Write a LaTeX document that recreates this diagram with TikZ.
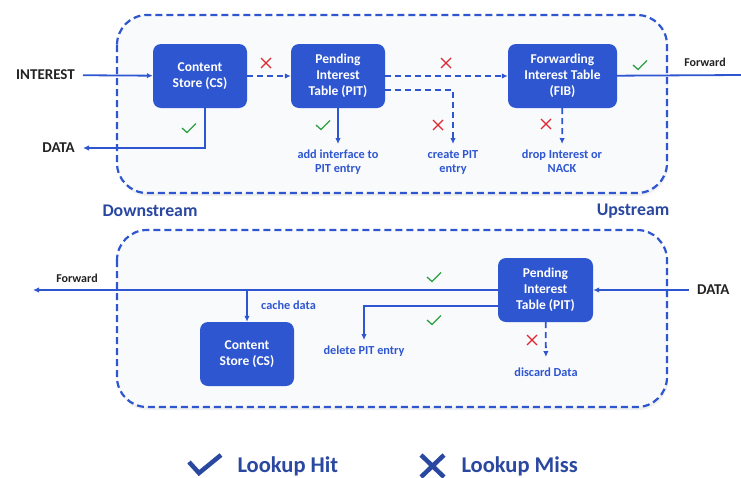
\documentclass[tikz,border=0pt]{standalone}
\usepackage{fontspec}
\setmainfont{Carlito}
\usetikzlibrary{arrows.meta,shadows}

\definecolor{ndnblue}{RGB}{46,86,208}
\definecolor{navy}{RGB}{42,72,160}
\definecolor{hitgreen}{RGB}{44,160,64}
\definecolor{missred}{RGB}{222,40,52}
\definecolor{panelfill}{RGB}{249,250,252}
\definecolor{inkgray}{RGB}{34,34,34}

\tikzset{
  panel/.style={draw=ndnblue, line width=2.2pt, dash pattern=on 7pt off 4pt,
    rounded corners=30pt, fill=panelfill,
    drop shadow={opacity=0.12, shadow xshift=1pt, shadow yshift=-3pt}},
  tablebox/.style={fill=ndnblue, rounded corners=8pt, text=white, align=center,
    minimum height=64pt, font=\bfseries\fontsize{13.5}{16}\selectfont},
  flow/.style={draw=ndnblue, line width=1.8pt},
  missflow/.style={flow, dash pattern=on 6pt off 4pt},
  subtext/.style={text=ndnblue, align=center, inner xsep=2pt, inner ysep=6pt,
    font=\bfseries\fontsize{12.3}{14}\selectfont},
  edgetext/.style={text=inkgray, inner xsep=8pt, font=\bfseries\fontsize{15}{17}\selectfont},
  fwdtext/.style={text=inkgray, font=\bfseries\fontsize{12}{14}\selectfont},
  sidetext/.style={text=navy, font=\bfseries\fontsize{17.8}{20}\selectfont},
  legendtext/.style={text=navy, anchor=west, font=\bfseries\fontsize{22.5}{26}\selectfont},
  hit/.pic={\draw[hitgreen, line width=1.3pt] (-7,0) -- (-2,4.5) -- (7,-4.5);},
  miss/.pic={\draw[missred, line width=1.3pt] (-5,-5) -- (5,5) (-5,5) -- (5,-5);}
}

\begin{document}
\begin{tikzpicture}[x=1pt, y=-1pt, >={Latex[length=6pt,width=5.5pt]}]
  \useasboundingbox (0,0) rectangle (741,477);

  % the two router panels
  \path[panel] (117,15) rectangle (667,193);
  \path[panel] (117,230) rectangle (667,407);
  \node[sidetext] (down) at (150,211) {Downstream};
  \node[sidetext] (up) at (633,211) {Upstream};

  % interest pipeline
  \node[tablebox, minimum width=94pt] (cs) at (200,76) {Content\\Store (CS)};
  \node[tablebox, minimum width=94pt] (pit) at (338,76) {Pending\\Interest\\Table (PIT)};
  \node[tablebox, minimum width=109pt] (fib) at (562.5,76) {Forwarding\\Interest Table\\(FIB)};

  \node[edgetext, anchor=east] (interest) at (83,75) {INTEREST};
  \node[edgetext, anchor=east] (data) at (83,148) {DATA};
  \node[subtext, anchor=north] (addif) at (338,144) {add interface to\\PIT entry};
  \node[subtext, anchor=north] (createpit) at (453,144) {create PIT\\entry};
  \node[subtext, anchor=north] (dropint) at (562,144) {drop Interest or\\NACK};
  \node[fwdtext] (fwdright) at (705,62) {Forward};
  \coordinate (rightedge) at (741,75);

  \draw[flow, ->] (interest) -- (cs);
  \draw[flow, ->] ([xshift=5pt]cs.south) |- (data);
  \draw[missflow, ->] (cs) -- (pit);
  \draw[missflow, ->] (pit) -- (fib);
  \draw[missflow, ->] ([yshift=-14pt]pit.east) -| (createpit);
  \draw[flow, ->] (pit) -- (addif);
  \draw[missflow, ->] (fib) -- (dropint);
  \draw[flow] (fib) -- (rightedge);

  \pic at (266,63) {miss};
  \pic at (446,63) {miss};
  \pic at (438,125) {miss};
  \pic at (546,124) {miss};
  \pic at (189,128) {hit};
  \pic at (323,125) {hit};
  \pic at (640,65) {hit};

  % data pipeline
  \node[tablebox, minimum width=95pt] (bpit) at (545.5,290) {Pending\\Interest\\Table (PIT)};
  \node[tablebox, minimum width=94pt] (bcs) at (247,354) {Content\\Store (CS)};

  \node[edgetext, anchor=west] (datain) at (689,290) {DATA};
  \node[fwdtext] (fwdleft) at (77,278) {Forward};
  \node[subtext, anchor=west] (cachedata) at (259,305) {cache data};
  \node[subtext, anchor=north] (deletepit) at (364,340) {delete PIT entry};
  \node[subtext, anchor=north, inner ysep=11pt] (discard) at (546,357) {discard Data};
  \coordinate (leftedge) at (33,290);
  \coordinate (branch) at (247,290);

  \draw[flow, ->] (datain) -- (bpit);
  \draw[flow, ->] (bpit.west) -- (leftedge);
  \draw[flow, ->] (branch) -- (bcs);
  \draw[flow, ->] ([yshift=-16pt]bpit.west) -| (deletepit);
  \draw[missflow, ->] (bpit) -- (discard);

  \pic at (434,277) {hit};
  \pic at (434,320) {hit};
  \pic at (532,340) {miss};

  % legend
  \draw[navy, line width=4.5pt] (189,462) -- (199,473) -- (221,455);
  \node[legendtext] (lookuphit) at (234,466) {Lookup Hit};
  \draw[navy, line width=4.5pt] (421,455) -- (444,477) (444,455) -- (421,477);
  \node[legendtext] (lookupmiss) at (458,466) {Lookup Miss};
\end{tikzpicture}
\end{document}
